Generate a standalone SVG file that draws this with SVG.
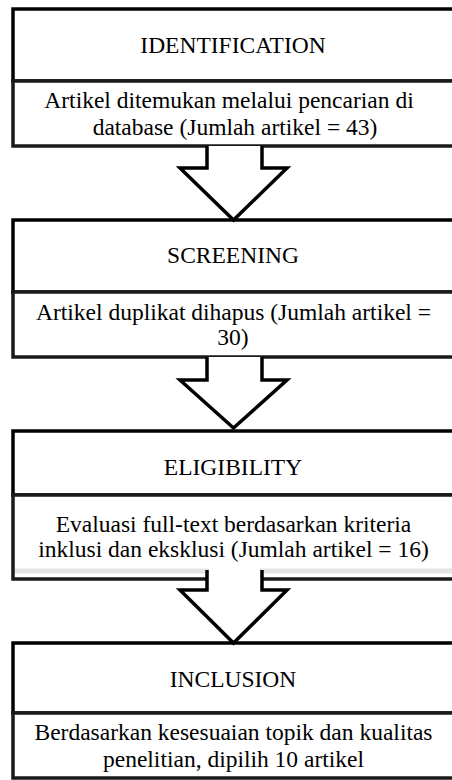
<svg xmlns="http://www.w3.org/2000/svg" width="452" height="780" viewBox="0 0 452 780">
<style>
  .hdr { fill: #ffffff; stroke: #000000; stroke-width: 3.5; }
  .body { fill: #ffffff; stroke: #1a1a1a; stroke-width: 3.5; }
  text { font-family: "Liberation Serif", "Times New Roman", serif; font-size: 23.5px; fill: #000000; text-anchor: middle; }
  .arrow { fill: #ffffff; stroke: #000000; stroke-width: 3.5; stroke-linejoin: miter; }
</style>
<rect width="452" height="780" fill="#ffffff"/>

<g id="identification">
  <rect class="hdr" x="13" y="9" width="460" height="72"/>
  <rect class="body" x="13" y="81" width="460" height="65"/>
  <text x="233" y="53">IDENTIFICATION</text>
  <text x="229" y="108">Artikel ditemukan melalui pencarian di</text>
  <text x="235" y="135">database (Jumlah artikel = 43)</text>
</g>

<g id="screening">
  <rect class="hdr" x="13" y="220" width="460" height="72"/>
  <rect class="body" x="13" y="292" width="460" height="65"/>
  <text x="233" y="263">SCREENING</text>
  <text x="233.5" y="320">Artikel duplikat dihapus (Jumlah artikel =</text>
  <text x="233" y="345">30)</text>
</g>

<g id="eligibility">
  <rect class="hdr" x="13" y="431" width="460" height="64"/>
  <rect class="body" x="13" y="495" width="460" height="84"/>
  <line x1="15" y1="571" x2="460" y2="571" stroke="#e4e4e4" stroke-width="5"/>
  <text x="233" y="475">ELIGIBILITY</text>
  <text x="233.5" y="532">Evaluasi full-text berdasarkan kriteria</text>
  <text x="233.5" y="557">inklusi dan eksklusi (Jumlah artikel = 16)</text>
</g>

<g id="inclusion">
  <rect class="hdr" x="13" y="643" width="460" height="70"/>
  <rect class="body" x="13" y="713" width="460" height="65"/>
  <text x="233" y="687">INCLUSION</text>
  <text x="233.5" y="740">Berdasarkan kesesuaian topik dan kualitas</text>
  <text x="233.5" y="767">penelitian, dipilih 10 artikel</text>
</g>

<g id="connectors">
  <path class="arrow" d="M207,146 L207,168 L180,168 L233.5,220 L287,168 L262,168 L262,146"/>
  <path class="arrow" d="M207,357 L207,380 L180,380 L233.5,428 L287,380 L262,380 L262,357"/>
  <rect x="209" y="568" width="51" height="10" fill="#ffffff"/>
  <path class="arrow" d="M207,570 L207,590 L180,590 L233.5,643 L287,590 L262,590 L262,570"/>
</g>
</svg>
